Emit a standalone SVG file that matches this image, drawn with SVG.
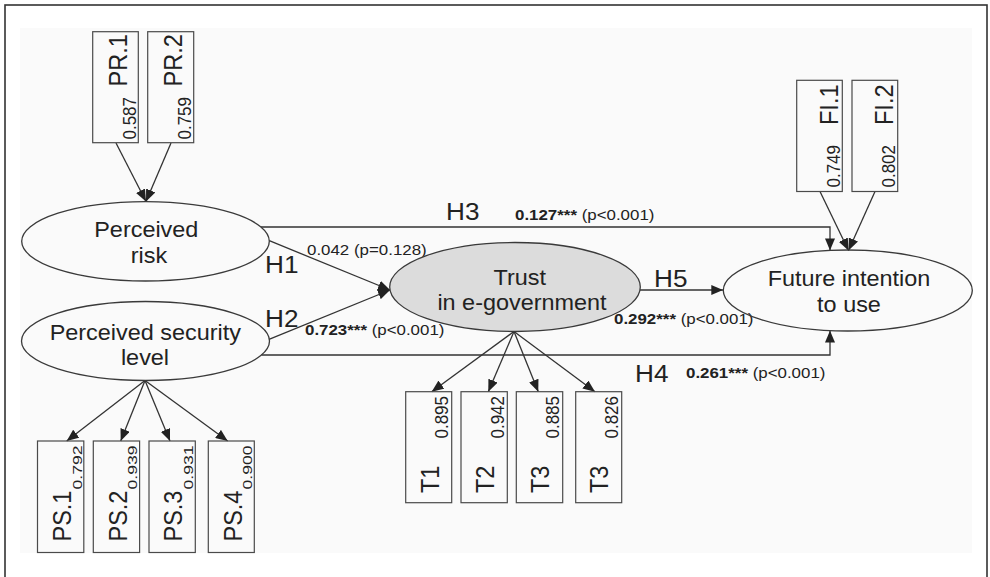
<svg xmlns="http://www.w3.org/2000/svg" width="990" height="577" viewBox="0 0 990 577">
<defs>
<marker id="arr" viewBox="0 0 12 10" refX="12" refY="5" markerWidth="12" markerHeight="10" markerUnits="userSpaceOnUse" orient="auto"><path d="M0,0 L12,5 L0,10 z" fill="#222"/></marker>
<style>
text{font-family:"Liberation Sans",Arial,sans-serif;fill:#222}
.ell{fill:none;stroke:#3a3a3a;stroke-width:1.3}
.box{fill:none;stroke:#4a4a4a;stroke-width:1.2}
.lab{font-size:21.5px}
.hyp{font-size:24px}
.val{font-size:15.5px}
.ind{font-size:23.5px}
.num{font-size:17px}
.sub{font-size:11.5px}
.cn{fill:none;stroke:#333;stroke-width:1.3}
</style>
</defs>
<rect x="0" y="0" width="990" height="577" fill="#ffffff"/>
<rect x="20" y="28" width="952" height="525" fill="#fafafa"/>
<rect x="5" y="5" width="982" height="600" fill="none" stroke="#333" stroke-width="1.6"/>

<g id="connectors">
<line class="cn" x1="116" y1="143" x2="146" y2="201.5" marker-end="url(#arr)"/>
<line class="cn" x1="171" y1="143" x2="146" y2="201.5" marker-end="url(#arr)"/>
<line class="cn" x1="820" y1="191.5" x2="848.5" y2="250.5" marker-end="url(#arr)"/>
<line class="cn" x1="875" y1="191.5" x2="848.5" y2="250.5" marker-end="url(#arr)"/>
<line class="cn" x1="269.3" y1="240.7" x2="390" y2="290" marker-end="url(#arr)"/>
<line class="cn" x1="269" y1="339.3" x2="390" y2="290" marker-end="url(#arr)"/>
<polyline class="cn" points="261,227 830,227 830,250.4" marker-end="url(#arr)"/>
<polyline class="cn" points="261.5,355 830,355 830,330.6" marker-end="url(#arr)"/>
<line class="cn" x1="640" y1="290" x2="723.3" y2="290" marker-end="url(#arr)"/>
<line class="cn" x1="145" y1="380.5" x2="66.7" y2="441" marker-end="url(#arr)"/>
<line class="cn" x1="145" y1="380.5" x2="120.7" y2="441" marker-end="url(#arr)"/>
<line class="cn" x1="145" y1="380.5" x2="170" y2="441" marker-end="url(#arr)"/>
<line class="cn" x1="145" y1="380.5" x2="227.7" y2="441" marker-end="url(#arr)"/>
<line class="cn" x1="514" y1="331.5" x2="431.7" y2="391.7" marker-end="url(#arr)"/>
<line class="cn" x1="514" y1="331.5" x2="488.3" y2="391.7" marker-end="url(#arr)"/>
<line class="cn" x1="514" y1="331.5" x2="538.3" y2="391.7" marker-end="url(#arr)"/>
<line class="cn" x1="514" y1="331.5" x2="595" y2="391.7" marker-end="url(#arr)"/>
</g>

<g id="edge-labels">
<text class="hyp" transform="translate(265,273) scale(1.09,1)">H1</text>
<text class="val" transform="translate(307,255) scale(1.09,1)">0.042 (p=0.128)</text>
<text class="hyp" transform="translate(265,326.5) scale(1.09,1)">H2</text>
<text class="val" transform="translate(305,335) scale(1.09,1)"><tspan font-weight="bold">0.723***</tspan> (p&lt;0.001)</text>
<text class="hyp" transform="translate(446,220) scale(1.09,1)">H3</text>
<text class="val" transform="translate(515,220) scale(1.09,1)"><tspan font-weight="bold">0.127***</tspan> (p&lt;0.001)</text>
<text class="hyp" transform="translate(635,382) scale(1.09,1)">H4</text>
<text class="val" transform="translate(686,377.5) scale(1.09,1)"><tspan font-weight="bold">0.261***</tspan> (p&lt;0.001)</text>
<text class="hyp" transform="translate(654,287) scale(1.09,1)">H5</text>
<text class="val" transform="translate(614,324) scale(1.09,1)"><tspan font-weight="bold">0.292***</tspan> (p&lt;0.001)</text>
</g>

<g id="perceived-risk">
<ellipse class="ell" cx="145.5" cy="241.3" rx="123.8" ry="39.7" fill="none"/>
<text class="lab" text-anchor="middle" transform="translate(146.3,236.7) scale(1.09,1)">Perceived</text>
<text class="lab" text-anchor="middle" transform="translate(149,263.3) scale(1.09,1)">risk</text>
</g>

<g id="perceived-security">
<ellipse class="ell" cx="145.5" cy="341" rx="124" ry="39.5"/>
<text class="lab" text-anchor="middle" transform="translate(145.3,340) scale(1.09,1)">Perceived security</text>
<text class="lab" text-anchor="middle" transform="translate(145,365) scale(1.09,1)">level</text>
</g>

<g id="trust">
<ellipse cx="515" cy="287" rx="125.3" ry="44.5" fill="#dcdcdc" stroke="#3a3a3a" stroke-width="1.3"/>
<text class="lab" text-anchor="middle" transform="translate(519.7,285) scale(1.09,1)">Trust</text>
<text class="lab" text-anchor="middle" transform="translate(522,310) scale(1.09,1)">in e-government</text>
</g>

<g id="future-intention">
<ellipse class="ell" cx="847.8" cy="290.5" rx="124.5" ry="40.5"/>
<text class="lab" text-anchor="middle" transform="translate(849,286) scale(1.09,1)">Future intention</text>
<text class="lab" text-anchor="middle" transform="translate(849,311.7) scale(1.09,1)">to use</text>
</g>

<g id="PR1">
<rect class="box" x="92.7" y="31.7" width="45.6" height="111"/>
<text class="ind" transform="translate(126.7,86.5) scale(1.09,1) rotate(-90)">PR.1</text>
<text class="num" transform="translate(136,139.5) scale(1.09,1) rotate(-90)">0.587</text>
</g>
<g id="PR2">
<rect class="box" x="147.7" y="31.7" width="46" height="111"/>
<text class="ind" transform="translate(181.7,86.5) scale(1.09,1) rotate(-90)">PR.2</text>
<text class="num" transform="translate(190.7,139.5) scale(1.09,1) rotate(-90)">0.759</text>
</g>

<g id="FI1">
<rect class="box" x="796.7" y="80.3" width="45.6" height="111.2"/>
<text class="ind" transform="translate(838.3,125) scale(1.09,1) rotate(-90)">FI.1</text>
<text class="num" transform="translate(840,187.5) scale(1.09,1) rotate(-90)">0.749</text>
</g>
<g id="FI2">
<rect class="box" x="852" y="80.3" width="45.7" height="111.2"/>
<text class="ind" transform="translate(893.3,125) scale(1.09,1) rotate(-90)">FI.2</text>
<text class="num" transform="translate(895,187.5) scale(1.09,1) rotate(-90)">0.802</text>
</g>

<g id="PS1">
<rect class="box" x="37.5" y="441" width="46.3" height="111.5"/>
<text class="ind" transform="translate(70.8,541.5) scale(1.09,1) rotate(-90)">PS.1</text>
<text class="sub" textLength="44" lengthAdjust="spacingAndGlyphs" transform="translate(81.5,489.5) scale(1.09,1) rotate(-90)">0.792</text>
</g>
<g id="PS2">
<rect class="box" x="93.3" y="441" width="46.3" height="111.5"/>
<text class="ind" transform="translate(126.6,541.5) scale(1.09,1) rotate(-90)">PS.2</text>
<text class="sub" textLength="44" lengthAdjust="spacingAndGlyphs" transform="translate(137.3,489.5) scale(1.09,1) rotate(-90)">0.939</text>
</g>
<g id="PS3">
<rect class="box" x="149" y="441" width="46.3" height="111.5"/>
<text class="ind" transform="translate(182.3,541.5) scale(1.09,1) rotate(-90)">PS.3</text>
<text class="sub" textLength="44" lengthAdjust="spacingAndGlyphs" transform="translate(193,489.5) scale(1.09,1) rotate(-90)">0.931</text>
</g>
<g id="PS4">
<rect class="box" x="208.3" y="441" width="46" height="111.5"/>
<text class="ind" transform="translate(241.6,541.5) scale(1.09,1) rotate(-90)">PS.4</text>
<text class="sub" textLength="44" lengthAdjust="spacingAndGlyphs" transform="translate(252.3,489.5) scale(1.09,1) rotate(-90)">0.900</text>
</g>

<g id="T1">
<rect class="box" x="405.7" y="391.7" width="46" height="111"/>
<text class="ind" transform="translate(438.5,493) scale(1.09,1) rotate(-90)">T1</text>
<text class="num" transform="translate(447.5,438.5) scale(1.09,1) rotate(-90)">0.895</text>
</g>
<g id="T2">
<rect class="box" x="461" y="391.7" width="46.3" height="111"/>
<text class="ind" transform="translate(494,493) scale(1.09,1) rotate(-90)">T2</text>
<text class="num" transform="translate(503.7,438.5) scale(1.09,1) rotate(-90)">0.942</text>
</g>
<g id="T3">
<rect class="box" x="516.3" y="391.7" width="46.4" height="111"/>
<text class="ind" transform="translate(549.3,493) scale(1.09,1) rotate(-90)">T3</text>
<text class="num" transform="translate(559,438.5) scale(1.09,1) rotate(-90)">0.885</text>
</g>
<g id="T4">
<rect class="box" x="575.7" y="391.7" width="46" height="111"/>
<text class="ind" transform="translate(608.3,493) scale(1.09,1) rotate(-90)">T3</text>
<text class="num" transform="translate(618.2,438.5) scale(1.09,1) rotate(-90)">0.826</text>
</g>
</svg>
